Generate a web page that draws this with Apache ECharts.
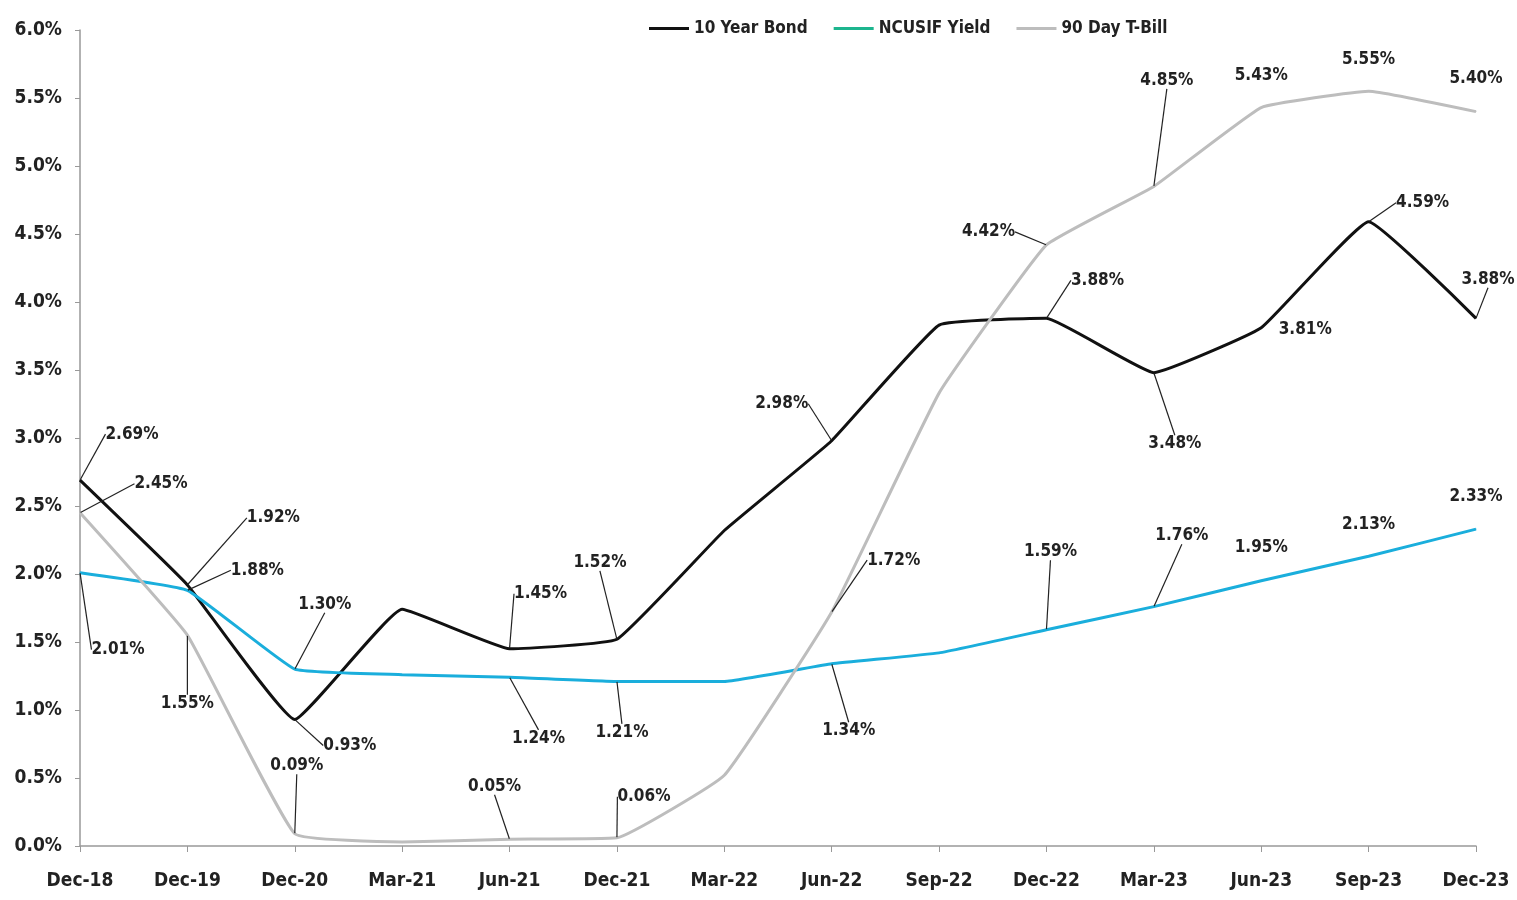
<!DOCTYPE html>
<html>
<head>
<meta charset="utf-8">
<script src="https://cdn.jsdelivr.net/npm/echarts@6/dist/echarts.min.js"></script>
<style>
html, body { margin: 0; padding: 0; background: #fff; }
#chart-container { width: 1517px; height: 900px; }
</style>
</head>
<body>
<div id="chart-container"></div>
<script>
// chart values
const categories = ['Dec-18', 'Dec-19', 'Dec-20', 'Mar-21', 'Jun-21', 'Dec-21', 'Mar-22', 'Jun-22', 'Sep-22', 'Dec-22', 'Mar-23', 'Jun-23', 'Sep-23', 'Dec-23'];
const bond10y = [2.69, 1.92, 0.93, 1.74, 1.45, 1.52, 2.32, 2.98, 3.83, 3.88, 3.48, 3.81, 4.59, 3.88];
const ncusif = [2.01, 1.88, 1.30, 1.26, 1.24, 1.21, 1.21, 1.34, 1.42, 1.59, 1.76, 1.95, 2.13, 2.33];
const tbill = [2.45, 1.55, 0.09, 0.03, 0.05, 0.06, 0.52, 1.72, 3.33, 4.42, 4.85, 5.43, 5.55, 5.40];
const yTicks = [0, 0.5, 1, 1.5, 2, 2.5, 3, 3.5, 4, 4.5, 5, 5.5, 6];

// label placement: index -> [dx, dy, leader line]
const bondLabels = { 0: [52, -46, 1], 1: [86, -67, 1], 2: [55, 26, 1], 4: [31, -55, 1], 5: [-17, -77, 1], 7: [-50, -37, 1], 9: [51, -38, 1], 10: [21, 71, 1], 11: [44, 2, 0], 12: [54, -19, 1], 13: [12, -39, 1] };
const ncusifLabels = { 0: [38, 77, 1], 1: [70, -20, 1], 2: [30, -65, 1], 4: [29, 61, 1], 5: [5, 51, 1], 7: [17, 67, 1], 9: [4, -78, 1], 10: [28, -71, 1], 11: [0, -33, 0], 12: [0, -32, 0], 13: [0, -33, 0] };
const tbillLabels = { 0: [81, -29, 1], 1: [0, 68, 1], 2: [2, -68, 1], 4: [-15, -53, 1], 5: [27, -41, 1], 7: [62, -52, 1], 9: [-58, -13, 1], 10: [13, -106, 1], 11: [0, -32, 0], 12: [0, -32, 0], 13: [0, -33, 0] };

const fontFam = "'Liberation Sans Narrow', 'DejaVu Sans Condensed', 'Noto Sans', sans-serif";

function buildData(values, labels) {
    return values.map(function (v, i) {
        return {
            value: v,
            label: { show: labels[i] !== undefined },
            labelLine: { show: !!(labels[i] && labels[i][2]) }
        };
    });
}

function makeSeries(name, values, labels, color) {
    return {
        name: name,
        type: 'line',
        smooth: 0.1,
        symbol: 'circle',
        symbolSize: 1,
        itemStyle: { color: color },
        lineStyle: { color: color, width: 3 },
        data: buildData(values, labels),
        label: {
            position: 'top',
            color: '#222',
            fontFamily: fontFam,
            fontWeight: 'bold',
            fontSize: 17,
            formatter: function (p) { return p.value.toFixed(2) + '%'; }
        },
        labelLine: { lineStyle: { color: '#222', width: 1.2 } },
        labelLayout: function (p) {
            const off = labels[p.dataIndex];
            if (!off) return {};
            const cx = p.rect.x + p.rect.width / 2;
            const cy = p.rect.y + p.rect.height / 2;
            return { x: cx + off[0], y: cy + off[1], align: 'center', verticalAlign: 'middle' };
        }
    };
}

var dom = document.getElementById('chart-container');
var myChart = echarts.init(dom, null, { renderer: 'canvas' });

var option = {
    backgroundColor: '#fff',
    animation: false,
    grid: { left: 80, right: 41, top: 30, bottom: 54 },
    legend: {
        top: 15,
        left: 644,
        icon: 'rect',
        itemWidth: 40,
        itemHeight: 3,
        itemGap: 26,
        textStyle: { fontFamily: fontFam, fontWeight: 'bold', fontSize: 17, color: '#222' },
        data: [
            { name: '10 Year Bond' },
            { name: 'NCUSIF Yield', itemStyle: { color: '#1DB58E' } },
            { name: '90 Day T-Bill' }
        ]
    },
    xAxis: {
        type: 'category',
        boundaryGap: false,
        data: categories,
        axisLine: { lineStyle: { color: '#999', width: 1.5 } },
        axisTick: { show: true, length: 6, lineStyle: { color: '#999' } },
        axisLabel: { color: '#222', fontFamily: fontFam, fontWeight: 'bold', fontSize: 19, margin: 26 }
    },
    yAxis: {
        type: 'value',
        min: yTicks[0],
        max: yTicks[yTicks.length - 1],
        interval: 0.5,
        splitLine: { show: false },
        axisLine: { show: true, lineStyle: { color: '#999', width: 1.5 } },
        axisTick: { show: true, length: 5, lineStyle: { color: '#999' } },
        axisLabel: {
            color: '#222', fontFamily: fontFam, fontWeight: 'bold', fontSize: 19, margin: 18,
            formatter: function (v) { return v.toFixed(1) + '%'; }
        }
    },
    series: [
        makeSeries('10 Year Bond', bond10y, bondLabels, '#111'),
        makeSeries('NCUSIF Yield', ncusif, ncusifLabels, '#1AAEDC'),
        makeSeries('90 Day T-Bill', tbill, tbillLabels, '#BDBDBD')
    ]
};

myChart.setOption(option);
window.addEventListener('resize', myChart.resize);
</script>
</body>
</html>
